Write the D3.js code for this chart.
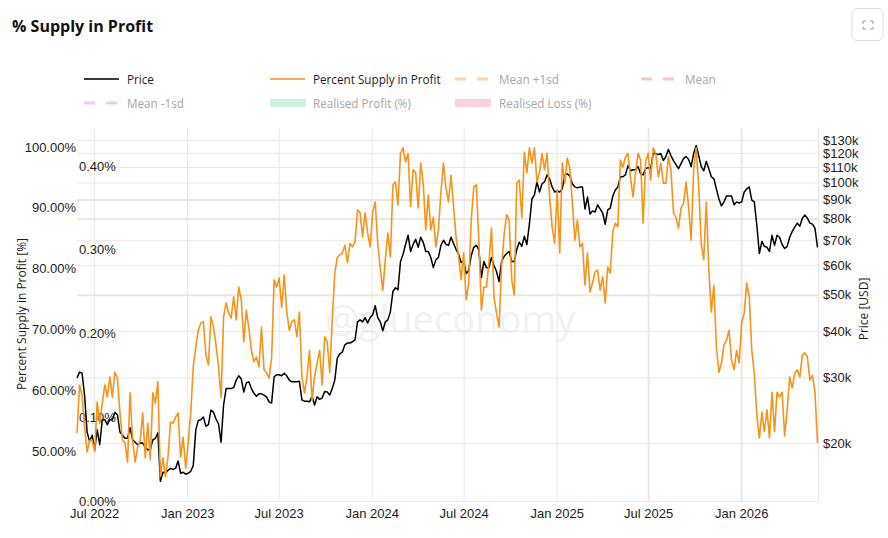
<!DOCTYPE html>
<html>
<head>
<meta charset="utf-8">
<script src="https://cdn.jsdelivr.net/npm/d3@7"></script>
<style>
  html, body { margin: 0; padding: 0; background: #fff; }
  svg { display: block; font-family: "Open Sans", sans-serif; }
  text { fill: #1c1c1c; }
</style>
</head>
<body>
<svg id="chart" width="888" height="538"></svg>
<script>
// Sampled every five days from the first date
const firstDate = new Date(Date.UTC(2022, 4, 28));
const sampleStepDays = 5;

const percentSupply = [
52.8,60.7,59.0,53.8,49.7,51.6,51.6,49.7,57.9,54.4,
57.7,60.7,58.7,62.0,58.7,62.8,61.8,56.1,51.6,51.2,
48.0,59.4,51.6,48.0,50.5,51.6,56.1,48.7,54.4,48.4,
59.4,57.7,61.2,45.6,48.7,45.6,48.8,54.6,54.4,55.4,
56.1,48.8,52.1,47.0,51.2,56.1,63.7,66.9,69.7,70.9,
71.1,65.6,64.0,71.9,70.2,67.3,63.7,58.6,71.9,74.2,
72.5,71.7,75.2,71.4,76.8,74.7,67.8,73.0,70.1,66.4,
64.5,65.3,63.7,70.2,63.2,62.7,61.8,65.1,78.0,76.8,
78.3,73.5,78.8,72.7,69.7,71.1,71.4,68.6,72.7,62.0,
59.4,62.0,66.4,58.2,62.0,64.3,66.4,60.7,68.6,67.8,
62.7,71.4,79.1,81.7,82.1,82.4,83.7,80.8,84.0,83.4,
84.2,89.5,89.0,85.0,89.0,85.7,83.4,89.1,90.8,84.0,
79.9,76.3,81.3,85.7,81.7,93.6,94.1,90.3,98.8,99.7,
97.4,98.8,90.0,96.1,95.6,89.8,97.2,93.9,86.2,91.9,
86.2,88.3,83.4,86.2,92.4,97.2,93.1,90.8,95.2,90.0,
85.0,81.7,78.0,82.4,74.7,77.5,87.8,93.3,93.6,84.5,
73.0,76.8,76.8,80.8,86.5,75.2,72.5,70.2,80.1,85.4,
88.7,87.8,78.0,75.5,93.9,94.4,88.2,99.0,95.6,99.7,
97.2,99.7,94.1,95.6,98.8,96.1,98.8,91.6,86.7,84.0,
92.8,82.4,97.2,93.9,98.0,96.4,90.6,84.5,87.8,83.4,
84.0,77.1,82.4,76.0,77.5,79.3,79.6,76.3,78.5,74.2,
80.1,79.1,85.9,87.3,86.7,97.7,96.5,98.2,98.8,94.9,
91.6,95.6,98.8,97.7,87.3,97.4,98.8,94.4,99.7,98.8,
94.9,97.2,93.9,93.9,98.2,96.1,89.1,88.2,86.5,89.8,
90.6,94.1,90.0,84.5,96.1,99.7,93.3,84.0,81.3,90.8,
79.6,72.7,77.1,66.9,62.8,64.3,67.3,68.1,69.7,64.8,
63.2,66.4,64.3,70.9,72.5,77.5,75.2,66.4,62.7,55.7,
52.0,56.2,53.0,56.6,52.0,59.5,53.0,59.5,58.7,59.5,
52.3,56.6,62.0,60.2,62.7,63.2,62.0,65.6,66.0,65.3,
61.5,62.3,59.5,51.2
];

// Price in thousands of US dollars
const priceK = [
29.9,31.0,30.8,26.9,21.4,20.2,21.0,19.2,21.7,19.8,
23.1,23.1,22.4,23.1,23.1,24.2,23.8,21.4,21.0,20.6,
20.6,22.0,20.4,20.1,19.8,20.0,20.0,19.5,19.2,19.2,
20.4,20.6,21.3,15.8,16.7,16.6,16.9,17.1,17.0,17.1,
17.9,16.6,16.7,16.5,16.6,16.8,17.4,21.7,23.0,23.1,
23.5,22.2,22.4,24.5,24.2,23.2,22.5,20.1,25.3,28.0,
28.0,28.0,28.2,29.5,30.3,29.7,27.4,29.0,29.2,28.0,
27.2,26.7,27.1,27.1,26.9,26.6,25.8,25.6,30.1,30.5,
30.5,30.3,30.8,30.3,29.5,29.2,29.2,29.2,29.3,26.1,
25.9,25.9,25.8,26.7,25.3,26.6,26.2,26.4,27.5,27.4,
26.9,28.0,29.5,33.8,34.7,35.1,36.7,37.1,37.1,37.4,
37.8,42.3,42.8,42.3,43.4,42.0,43.4,44.2,46.7,43.4,
42.3,40.0,42.3,42.8,45.0,51.0,52.2,51.6,61.4,64.1,
68.2,72.2,65.3,68.2,70.4,67.0,71.3,69.1,65.3,65.3,
62.9,59.1,62.1,62.9,67.8,70.0,68.2,67.8,71.3,68.6,
66.1,64.1,61.0,61.4,57.0,58.0,63.7,67.0,67.8,66.1,
55.6,61.4,59.1,59.1,62.9,59.9,57.7,54.2,61.4,63.3,
64.5,65.3,61.4,61.4,66.1,69.1,67.4,71.7,68.2,77.3,
90.3,92.6,100.4,94.3,99.2,100.4,104.8,102.3,97.3,94.3,
94.9,94.3,96.1,104.8,105.5,104.1,99.2,97.3,96.7,97.3,
97.3,84.9,91.4,82.3,83.9,83.3,87.1,84.9,82.8,77.3,
84.4,85.4,92.0,95.5,97.3,103.6,103.6,104.8,111.0,107.5,
108.2,108.2,110.3,105.5,104.8,108.9,109.6,108.9,119.6,119.6,
118.8,119.6,114.5,117.4,122.6,118.1,114.5,111.7,108.9,112.4,
115.9,117.4,115.2,110.3,119.6,125.7,118.1,110.3,107.5,113.8,
108.9,103.6,102.3,96.1,90.3,86.5,88.7,92.0,92.0,92.0,
87.1,88.7,88.1,88.7,94.3,96.1,97.3,89.7,88.7,76.8,
64.5,69.5,67.4,67.0,65.3,72.2,67.8,72.2,71.3,68.2,
66.5,67.4,71.3,73.9,75.9,77.8,76.3,80.2,81.8,80.2,
77.8,77.3,75.4,67.0
];

const priceTicks = [20, 30, 40, 50, 60, 70, 80, 90, 100, 110, 120, 130];
const heavyPriceTicks = [50, 80, 90];
const percentTicks = [50, 60, 70, 80, 90, 100];
const realisedTicks = [0, 0.1, 0.2, 0.3, 0.4];
const heavyDateYears = ["Jul 2025", "Jan 2026"];

const legendItems = [
  { name: "Price", row: 0, col: 0, kind: "line", color: "#3a3a3a", active: true },
  { name: "Percent Supply in Profit", row: 0, col: 1, kind: "line", color: "#f6ab5e", active: true },
  { name: "Mean +1sd", row: 0, col: 2, kind: "dash", color: "#fbd3a4", active: false },
  { name: "Mean", row: 0, col: 3, kind: "dash", color: "#fbc4c4", active: false },
  { name: "Mean -1sd", row: 1, col: 0, kind: "dash", color: "#f3c8f5", active: false },
  { name: "Realised Profit (%)", row: 1, col: 1, kind: "area", color: "#c9f3e0", active: false },
  { name: "Realised Loss (%)", row: 1, col: 2, kind: "area", color: "#fcd0dc", active: false }
];
const legendColumnX = [84, 270, 455, 641];
const legendLabelX = [127, 313, 499, 685];
const legendRowY = [79, 103];

const svg = d3.select("#chart");
const plot = { left: 77, right: 818, top: 128, bottom: 501.5 };
const gridColor = "#ece7e1";
const tickFontSize = 13;

const dates = percentSupply.map((_, i) => d3.utcDay.offset(firstDate, i * sampleStepDays));

const x = d3.scaleUtc()
  .domain([firstDate, new Date(Date.UTC(2026, 5, 2))])
  .range([plot.left, plot.right]);
const yPrice = d3.scaleLog().domain([13.94, 140]).range([plot.bottom, plot.top]);
const yPercent = d3.scaleLinear().domain([41.53, 102.96]).range([plot.bottom, plot.top]);
const yRealised = d3.scaleLinear().domain([0, 0.4]).range([501, 166]);

const formatMonth = d3.utcFormat("%b %Y");

// Title and expand button
svg.append("text").attr("x", 12).attr("y", 32)
  .attr("font-size", 16).attr("font-weight", 700).style("fill", "#111")
  .text("% Supply in Profit");

const button = svg.append("g").attr("fill", "none");
button.append("rect").attr("x", 852).attr("y", 8.5).attr("width", 31).attr("height", 32)
  .attr("rx", 5).attr("stroke", "#dfdbd3");
button.append("path").attr("stroke", "#9a9a9a")
  .attr("d", "M863 24V21H866 M870 21H873V24 M873 27V29H870 M866 29H863V27");

// Legend
legendItems.forEach(item => {
  const lx = legendColumnX[item.col];
  const ly = legendRowY[item.row];
  const g = svg.append("g");
  if (item.kind === "area") {
    g.append("rect").attr("x", lx).attr("y", ly - 4).attr("width", 36).attr("height", 8).attr("fill", item.color);
  } else {
    g.append("line").attr("x1", lx).attr("x2", lx + 35).attr("y1", ly).attr("y2", ly)
      .attr("stroke", item.color).attr("stroke-width", item.kind === "dash" ? 3 : 2)
      .attr("stroke-dasharray", item.kind === "dash" ? "11 11" : null);
  }
  g.append("text").attr("x", legendLabelX[item.col]).attr("y", ly + 4.5)
    .attr("font-size", 11.7).style("fill", item.active ? "#1c1c1c" : "#a6a6a6")
    .text(item.name);
});

// Watermark behind the data
svg.append("text").attr("x", 325).attr("y", 333)
  .attr("font-size", 38).style("fill", "#f1f1f2")
  .text("@glueconomy");

// Grid from the price and date scales
const priceGrid = d3.axisLeft(yPrice).tickValues(priceTicks)
  .tickSize(-(plot.right - plot.left)).tickFormat("");
svg.append("g").attr("transform", `translate(${plot.left},0)`).call(priceGrid)
  .call(g => g.select(".domain").remove())
  .call(g => g.selectAll("line")
    .attr("stroke", gridColor)
    .attr("stroke-width", d => heavyPriceTicks.includes(d) ? 2 : 1));

const dateGrid = d3.axisBottom(x).ticks(d3.utcMonth.every(6))
  .tickSize(-(plot.bottom - plot.top)).tickFormat("");
svg.append("g").attr("transform", `translate(0,${plot.bottom})`).call(dateGrid)
  .call(g => g.select(".domain").remove())
  .call(g => g.selectAll("line")
    .attr("stroke", gridColor)
    .attr("stroke-width", d => heavyDateYears.includes(formatMonth(d)) ? 2 : 1));

// Plot edges on the bottom and right
svg.append("line").attr("x1", plot.left).attr("x2", plot.right).attr("y1", 501.5).attr("y2", 501.5).attr("stroke", gridColor);
svg.append("line").attr("x1", plot.right + 0.5).attr("x2", plot.right + 0.5).attr("y1", plot.top).attr("y2", plot.bottom).attr("stroke", gridColor);

// Axis labels
const labelAxis = (axis, at) => svg.append("g").attr("transform", at).call(axis)
  .call(g => g.select(".domain").remove())
  .call(g => g.selectAll("line").remove())
  .call(g => g.selectAll("text").attr("font-size", tickFontSize).attr("font-family", null).style("fill", "#1c1c1c"));

labelAxis(d3.axisBottom(x).ticks(d3.utcMonth.every(6)).tickFormat(formatMonth).tickSize(0).tickPadding(2),
  `translate(0,${plot.bottom + 5})`);
labelAxis(d3.axisLeft(yPercent).tickValues(percentTicks).tickFormat(d => d3.format(".2f")(d) + "%").tickSize(0).tickPadding(1),
  `translate(${plot.left},1)`);
labelAxis(d3.axisRight(yPrice).tickValues(priceTicks).tickFormat(d => `$${d}k`).tickSize(0).tickPadding(5),
  `translate(${plot.right},0)`);
labelAxis(d3.axisRight(yRealised).tickValues(realisedTicks).tickFormat(d => d3.format(".2f")(d) + "%").tickSize(0).tickPadding(2),
  `translate(${plot.left},0)`);

svg.append("text").attr("transform", "translate(26,314) rotate(-90)")
  .attr("text-anchor", "middle").attr("font-size", 12).text("Percent Supply in Profit [%]");
svg.append("text").attr("transform", "translate(868,309) rotate(-90)")
  .attr("text-anchor", "middle").attr("font-size", 12).text("Price [USD]");

// Series
const priceLine = d3.line().x((_, i) => x(dates[i])).y(d => yPrice(d));
const percentLine = d3.line().x((_, i) => x(dates[i])).y(d => yPercent(d));

svg.append("path").datum(priceK).attr("fill", "none")
  .attr("stroke", "#000").attr("stroke-width", 1.5).attr("stroke-linejoin", "round").attr("d", priceLine);
svg.append("path").datum(percentSupply).attr("fill", "none")
  .attr("stroke", "#f7931a").attr("stroke-width", 1.6).attr("stroke-linejoin", "round").attr("d", percentLine);
</script>
</body>
</html>
